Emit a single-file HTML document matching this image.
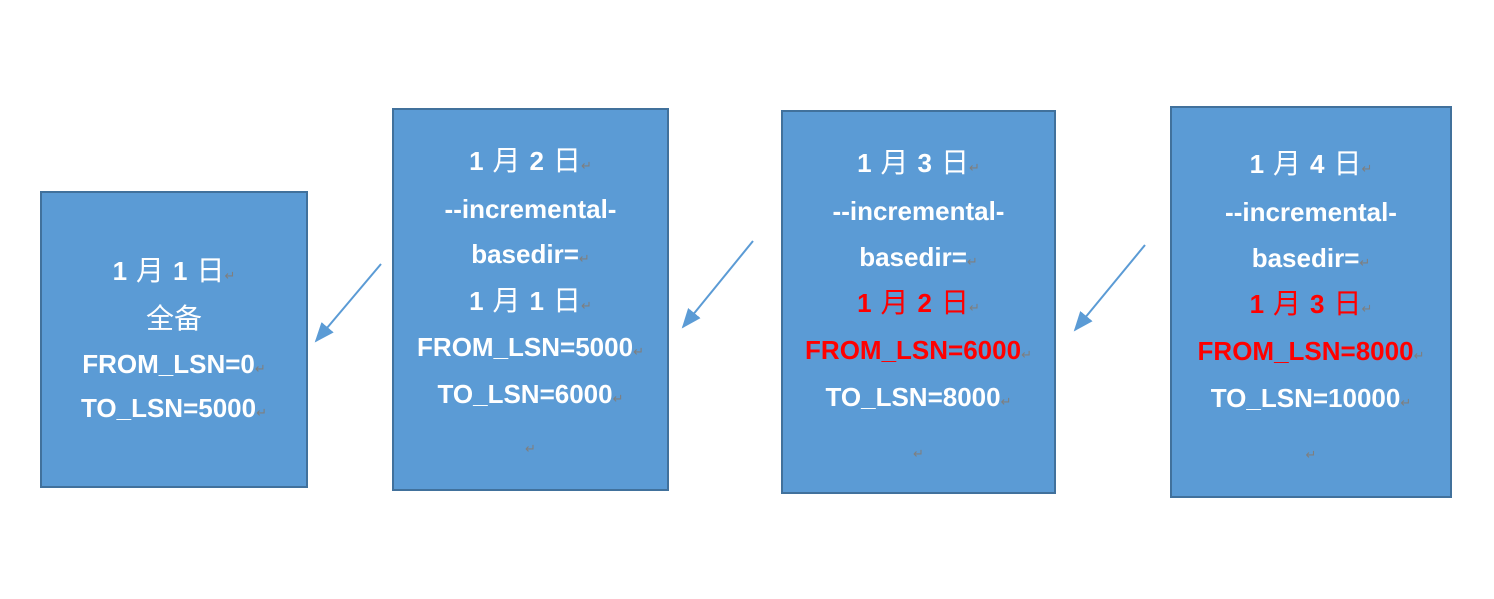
<!DOCTYPE html>
<html><head><meta charset="utf-8"><style>
body{margin:0;width:1494px;height:599px;background:#fff;position:relative;overflow:hidden;font-family:"Liberation Sans","Noto Sans CJK SC",sans-serif;}
.b{position:absolute;background:#5b9bd5;border:2.5px solid #41719c;box-sizing:border-box;}
.l{position:absolute;left:0;right:0;text-align:center;color:#fff;font-weight:bold;font-size:26px;line-height:30px;white-space:nowrap;}
.r{color:#f00;}
.m{color:#7f7f7f;font-size:13px;font-weight:normal;}
.cj{font-weight:normal;font-size:28px;margin:0 9px;}
.cj.e{margin-right:0;}
</style></head><body>
<div class="b" style="left:40px;top:191px;width:268px;height:297px">
<div class="l" style="top:63px">1<span class="cj">月</span>1<span class="cj e">日</span><span class="m">↵</span></div>
<div class="l" style="top:111px"><span class="cj">全备</span></div>
<div class="l" style="top:156px">FROM_LSN=0<span class="m">↵</span></div>
<div class="l" style="top:200px">TO_LSN=5000<span class="m">↵</span></div>
</div>
<div class="b" style="left:392px;top:108px;width:277px;height:383px">
<div class="l" style="top:36px">1<span class="cj">月</span>2<span class="cj e">日</span><span class="m">↵</span></div>
<div class="l" style="top:84px">--incremental-</div>
<div class="l" style="top:129px">basedir=<span class="m">↵</span></div>
<div class="l" style="top:176px">1<span class="cj">月</span>1<span class="cj e">日</span><span class="m">↵</span></div>
<div class="l" style="top:222px">FROM_LSN=5000<span class="m">↵</span></div>
<div class="l" style="top:269px">TO_LSN=6000<span class="m">↵</span></div>
<div class="l" style="top:319px"><span class="m">↵</span></div>
</div>
<div class="b" style="left:781px;top:110px;width:275px;height:384px">
<div class="l" style="top:36px">1<span class="cj">月</span>3<span class="cj e">日</span><span class="m">↵</span></div>
<div class="l" style="top:84px">--incremental-</div>
<div class="l" style="top:130px">basedir=<span class="m">↵</span></div>
<div class="l r" style="top:176px">1<span class="cj">月</span>2<span class="cj e">日</span><span class="m">↵</span></div>
<div class="l r" style="top:223px">FROM_LSN=6000<span class="m">↵</span></div>
<div class="l" style="top:270px">TO_LSN=8000<span class="m">↵</span></div>
<div class="l" style="top:322px"><span class="m">↵</span></div>
</div>
<div class="b" style="left:1170px;top:106px;width:282px;height:392px">
<div class="l" style="top:41px">1<span class="cj">月</span>4<span class="cj e">日</span><span class="m">↵</span></div>
<div class="l" style="top:89px">--incremental-</div>
<div class="l" style="top:135px">basedir=<span class="m">↵</span></div>
<div class="l r" style="top:181px">1<span class="cj">月</span>3<span class="cj e">日</span><span class="m">↵</span></div>
<div class="l r" style="top:228px">FROM_LSN=8000<span class="m">↵</span></div>
<div class="l" style="top:275px">TO_LSN=10000<span class="m">↵</span></div>
<div class="l" style="top:327px"><span class="m">↵</span></div>
</div>
<svg width="1494" height="599" style="position:absolute;left:0;top:0">
<defs><marker id="a" markerWidth="20" markerHeight="16" refX="18" refY="8" orient="auto" markerUnits="userSpaceOnUse"><path d="M0,0 L20,8 L0,16 z" fill="#5b9bd5"/></marker></defs>
<g stroke="#5b9bd5" stroke-width="2" fill="none">
<line x1="381" y1="264" x2="316" y2="341" marker-end="url(#a)"/>
<line x1="753" y1="241" x2="683" y2="327" marker-end="url(#a)"/>
<line x1="1145" y1="245" x2="1075" y2="330" marker-end="url(#a)"/>
</g>
</svg>
</body></html>
